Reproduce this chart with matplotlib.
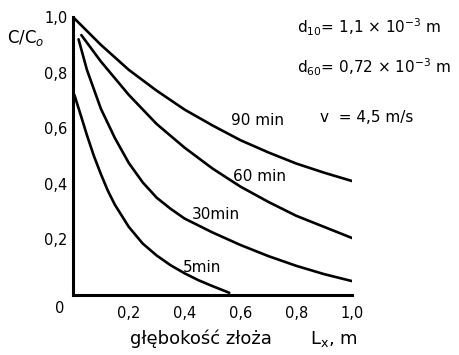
import matplotlib
matplotlib.use("Agg")
import matplotlib.pyplot as plt

# === data ===
x_90 = [0.0, 0.1, 0.2, 0.3, 0.4, 0.5, 0.6, 0.7, 0.8, 0.9, 1.0]
y_90 = [1.0, 0.90, 0.81, 0.735, 0.667, 0.61, 0.557, 0.513, 0.473, 0.44, 0.41]

x_60 = [0.03, 0.1, 0.2, 0.3, 0.4, 0.5, 0.6, 0.7, 0.8, 0.9, 1.0]
y_60 = [0.935, 0.84, 0.72, 0.615, 0.53, 0.455, 0.39, 0.335, 0.285, 0.245, 0.205]

x_30 = [0.02, 0.05, 0.1, 0.15, 0.2, 0.25, 0.3, 0.35, 0.4, 0.5, 0.6, 0.7, 0.8, 0.9, 1.0]
y_30 = [0.92, 0.81, 0.67, 0.565, 0.475, 0.405, 0.35, 0.31, 0.275, 0.225, 0.18, 0.14, 0.105, 0.075, 0.05]

x_5 = [0.005, 0.03, 0.05, 0.075, 0.1, 0.125, 0.15, 0.2, 0.25, 0.3, 0.35, 0.4, 0.45, 0.5, 0.56]
y_5 = [0.72, 0.64, 0.575, 0.50, 0.435, 0.375, 0.325, 0.245, 0.185, 0.142, 0.107, 0.078, 0.053, 0.032, 0.008]

curve_labels = ["90 min", "60 min", "30min", "5min"]
label_pos = [(0.565, 0.627), (0.575, 0.425), (0.427, 0.29), (0.395, 0.10)]

x_ticks = [0.2, 0.4, 0.6, 0.8, 1.0]
x_ticklabels = ["0,2", "0,4", "0,6", "0,8", "1,0"]
y_ticks = [0.2, 0.4, 0.6, 0.8, 1.0]
y_ticklabels = ["0,2", "0,4", "0,6", "0,8", "1,0"]

# === figure ===
fig = plt.figure(figsize=(4.59, 3.55), dpi=100)
ax = fig.add_axes([0.159, 0.169, 0.608, 0.783])

for xs, ys in [(x_90, y_90), (x_60, y_60), (x_30, y_30), (x_5, y_5)]:
    ax.plot(xs, ys, color="black", lw=1.9, solid_capstyle="round", solid_joinstyle="round")

for txt, (tx, ty) in zip(curve_labels, label_pos):
    ax.text(tx, ty, txt, fontsize=11, ha="left", va="center")

ax.set_xlim(0, 1.0)
ax.set_ylim(0, 1.0)
ax.spines["top"].set_visible(False)
ax.spines["right"].set_visible(False)
ax.spines["left"].set_linewidth(2.2)
ax.spines["bottom"].set_linewidth(2.2)

ax.set_xticks(x_ticks)
ax.set_xticklabels(x_ticklabels, fontsize=10.5)
ax.set_yticks(y_ticks)
ax.set_yticklabels(y_ticklabels, fontsize=10.5)
ax.tick_params(axis="x", length=0, pad=8)
ax.tick_params(axis="y", length=0, pad=4)

# origin label
ax.text(-0.047, -0.047, "0", fontsize=10.5, ha="center", va="center", transform=ax.transAxes)

# axis titles
fig.text(0.015, 0.893, r"C/C$_o$", fontsize=12, ha="left", va="center")
fig.text(0.438, 0.045, "głębokość złoża", fontsize=13, ha="center", va="center")
fig.text(0.728, 0.045, r"L$_\mathregular{x}$, m", fontsize=13, ha="center", va="center")

# parameters
fig.text(0.647, 0.924, r"d$_{10}$= 1,1 × 10$^{-3}$ m", fontsize=11, ha="left", va="center")
fig.text(0.647, 0.81, r"d$_{60}$= 0,72 × 10$^{-3}$ m", fontsize=11, ha="left", va="center")
fig.text(0.697, 0.67, "v  = 4,5 m/s", fontsize=11, ha="left", va="center")

fig.savefig("out.png", dpi=100)
